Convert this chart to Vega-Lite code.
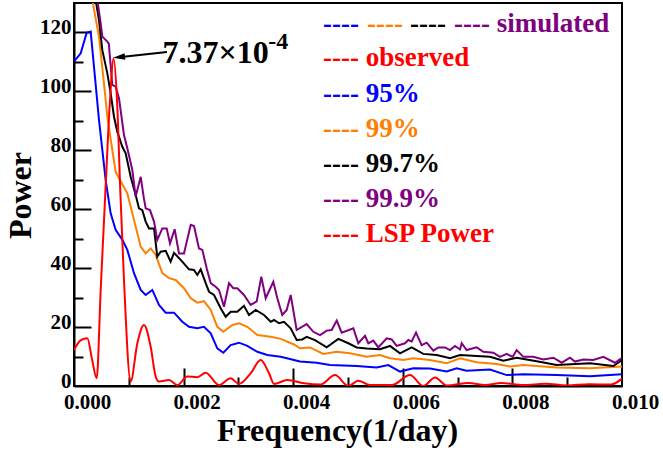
{
"$schema": "https://vega.github.io/schema/vega-lite/v6.json",
"width": 548, "height": 383,
"autosize": {"type": "none"},
"padding": {"left": 74, "top": 3, "right": 41, "bottom": 64},
"config": {"view": {"stroke": "#000000", "strokeWidth": 2}, "font": "Liberation Serif", "text": {"font": "Liberation Serif", "fontWeight": "bold"}},
"datasets": {
"sim": [
{"s":"95%","f":0,"p":110.1},{"s":"95%","f":0.000122,"p":112.9},{"s":"95%","f":0.000231,"p":119.9},{"s":"95%","f":0.000304,"p":120.3},{"s":"95%","f":0.000353,"p":110.7},{"s":"95%","f":0.000456,"p":90.3},{"s":"95%","f":0.000578,"p":69.9},{"s":"95%","f":0.000669,"p":58.6},{"s":"95%","f":0.00076,"p":53},{"s":"95%","f":0.000882,"p":49.6},{"s":"95%","f":0.000973,"p":46.2},{"s":"95%","f":0.001095,"p":38.3},{"s":"95%","f":0.001217,"p":32.6},{"s":"95%","f":0.001308,"p":30.9},{"s":"95%","f":0.001429,"p":32.6},{"s":"95%","f":0.001551,"p":27.5},{"s":"95%","f":0.001673,"p":24.9},{"s":"95%","f":0.001825,"p":24.9},{"s":"95%","f":0.001977,"p":21.8},{"s":"95%","f":0.002099,"p":20.1},{"s":"95%","f":0.00225,"p":19.6},{"s":"95%","f":0.002372,"p":20.1},{"s":"95%","f":0.002495,"p":17.9},{"s":"95%","f":0.002615,"p":12.8},{"s":"95%","f":0.002725,"p":11.3},{"s":"95%","f":0.002859,"p":13.9},{"s":"95%","f":0.003011,"p":14.7},{"s":"95%","f":0.003163,"p":13.6},{"s":"95%","f":0.003345,"p":11.6},{"s":"95%","f":0.003528,"p":10.5},{"s":"95%","f":0.003771,"p":9.9},{"s":"95%","f":0.004015,"p":8.8},{"s":"95%","f":0.004124,"p":8.3},{"s":"95%","f":0.004428,"p":7.9},{"s":"95%","f":0.004672,"p":7.1},{"s":"95%","f":0.005158,"p":6.8},{"s":"95%","f":0.005523,"p":6.3},{"s":"95%","f":0.005736,"p":7.1},{"s":"95%","f":0.005949,"p":4.9},{"s":"95%","f":0.006192,"p":6.0},{"s":"95%","f":0.006496,"p":5.9},{"s":"95%","f":0.006801,"p":4.9},{"s":"95%","f":0.006983,"p":6.0},{"s":"95%","f":0.007165,"p":5.2},{"s":"95%","f":0.007591,"p":5.6},{"s":"95%","f":0.007896,"p":3.7},{"s":"95%","f":0.008199,"p":4.0},{"s":"95%","f":0.008808,"p":3.7},{"s":"95%","f":0.009416,"p":3.3},{"s":"95%","f":0.01,"p":4.0},
{"s":"99%","f":0,"p":190},{"s":"99%","f":0.00025,"p":145},{"s":"99%","f":0.000334,"p":131},{"s":"99%","f":0.000456,"p":118.6},{"s":"99%","f":0.000547,"p":102.7},{"s":"99%","f":0.000608,"p":91.4},{"s":"99%","f":0.000699,"p":80.1},{"s":"99%","f":0.00076,"p":72.7},{"s":"99%","f":0.000882,"p":68.5},{"s":"99%","f":0.000973,"p":65.4},{"s":"99%","f":0.001004,"p":63.1},{"s":"99%","f":0.001125,"p":54.1},{"s":"99%","f":0.001217,"p":47.3},{"s":"99%","f":0.001308,"p":45},{"s":"99%","f":0.0014,"p":46.7},{"s":"99%","f":0.001491,"p":44.5},{"s":"99%","f":0.001612,"p":38.3},{"s":"99%","f":0.001734,"p":36.6},{"s":"99%","f":0.001856,"p":36},{"s":"99%","f":0.002007,"p":33.2},{"s":"99%","f":0.00213,"p":29.8},{"s":"99%","f":0.00225,"p":28.3},{"s":"99%","f":0.002372,"p":28.8},{"s":"99%","f":0.002495,"p":25.8},{"s":"99%","f":0.002615,"p":20.1},{"s":"99%","f":0.002725,"p":18.4},{"s":"99%","f":0.002889,"p":20.7},{"s":"99%","f":0.003011,"p":21.3},{"s":"99%","f":0.003163,"p":20.1},{"s":"99%","f":0.003345,"p":17.3},{"s":"99%","f":0.00359,"p":16.7},{"s":"99%","f":0.003771,"p":16.0},{"s":"99%","f":0.004015,"p":14.1},{"s":"99%","f":0.004124,"p":12.8},{"s":"99%","f":0.004307,"p":13.1},{"s":"99%","f":0.004549,"p":10.9},{"s":"99%","f":0.004794,"p":11.6},{"s":"99%","f":0.005036,"p":11.1},{"s":"99%","f":0.005341,"p":9.9},{"s":"99%","f":0.005584,"p":10.5},{"s":"99%","f":0.005766,"p":9.4},{"s":"99%","f":0.006009,"p":8.8},{"s":"99%","f":0.006192,"p":9.4},{"s":"99%","f":0.006496,"p":8.8},{"s":"99%","f":0.006801,"p":7.7},{"s":"99%","f":0.007044,"p":9.4},{"s":"99%","f":0.007348,"p":8.1},{"s":"99%","f":0.007713,"p":7.5},{"s":"99%","f":0.007956,"p":6.6},{"s":"99%","f":0.008199,"p":7.1},{"s":"99%","f":0.008808,"p":6.3},{"s":"99%","f":0.009416,"p":6.0},{"s":"99%","f":0.01,"p":6.6},
{"s":"99.7%","f":0,"p":200},{"s":"99.7%","f":0.0003,"p":145},{"s":"99.7%","f":0.000395,"p":131},{"s":"99.7%","f":0.000456,"p":124.2},{"s":"99.7%","f":0.000517,"p":114},{"s":"99.7%","f":0.000608,"p":106.1},{"s":"99.7%","f":0.000669,"p":99.4},{"s":"99.7%","f":0.00073,"p":91.4},{"s":"99.7%","f":0.00079,"p":86.3},{"s":"99.7%","f":0.000882,"p":81.2},{"s":"99.7%","f":0.000943,"p":79},{"s":"99.7%","f":0.001034,"p":71},{"s":"99.7%","f":0.001125,"p":64.8},{"s":"99.7%","f":0.001186,"p":60.3},{"s":"99.7%","f":0.001247,"p":59.7},{"s":"99.7%","f":0.001308,"p":55.8},{"s":"99.7%","f":0.001369,"p":53.5},{"s":"99.7%","f":0.00146,"p":53.5},{"s":"99.7%","f":0.00152,"p":43.9},{"s":"99.7%","f":0.001582,"p":45.6},{"s":"99.7%","f":0.001673,"p":45.9},{"s":"99.7%","f":0.001764,"p":42.2},{"s":"99.7%","f":0.001825,"p":45.2},{"s":"99.7%","f":0.001947,"p":42.8},{"s":"99.7%","f":0.002099,"p":39.6},{"s":"99.7%","f":0.00219,"p":39.4},{"s":"99.7%","f":0.00225,"p":37.7},{"s":"99.7%","f":0.002312,"p":39.6},{"s":"99.7%","f":0.002403,"p":34.9},{"s":"99.7%","f":0.002464,"p":32},{"s":"99.7%","f":0.002555,"p":30.9},{"s":"99.7%","f":0.002677,"p":26.4},{"s":"99.7%","f":0.002768,"p":23.5},{"s":"99.7%","f":0.002859,"p":25.2},{"s":"99.7%","f":0.00298,"p":25.2},{"s":"99.7%","f":0.003102,"p":27.2},{"s":"99.7%","f":0.003193,"p":24.1},{"s":"99.7%","f":0.003315,"p":25.8},{"s":"99.7%","f":0.003467,"p":24.1},{"s":"99.7%","f":0.00359,"p":21.8},{"s":"99.7%","f":0.00365,"p":22.4},{"s":"99.7%","f":0.003741,"p":21.3},{"s":"99.7%","f":0.003832,"p":21.8},{"s":"99.7%","f":0.003954,"p":19.6},{"s":"99.7%","f":0.004063,"p":15.6},{"s":"99.7%","f":0.004166,"p":15.8},{"s":"99.7%","f":0.004246,"p":16.7},{"s":"99.7%","f":0.004398,"p":15.6},{"s":"99.7%","f":0.004611,"p":13.1},{"s":"99.7%","f":0.004823,"p":16},{"s":"99.7%","f":0.005006,"p":14.5},{"s":"99.7%","f":0.005158,"p":13.1},{"s":"99.7%","f":0.005341,"p":12.7},{"s":"99.7%","f":0.005584,"p":12.5},{"s":"99.7%","f":0.005766,"p":13.6},{"s":"99.7%","f":0.005949,"p":11.1},{"s":"99.7%","f":0.006162,"p":13.1},{"s":"99.7%","f":0.006374,"p":10.9},{"s":"99.7%","f":0.006618,"p":10.5},{"s":"99.7%","f":0.006861,"p":9.4},{"s":"99.7%","f":0.007044,"p":10.5},{"s":"99.7%","f":0.007348,"p":10.2},{"s":"99.7%","f":0.007591,"p":9.9},{"s":"99.7%","f":0.007834,"p":8.6},{"s":"99.7%","f":0.008078,"p":9.6},{"s":"99.7%","f":0.008443,"p":8.4},{"s":"99.7%","f":0.008808,"p":7.1},{"s":"99.7%","f":0.009416,"p":7.7},{"s":"99.7%","f":0.009842,"p":6.8},{"s":"99.7%","f":0.01,"p":8.8},
{"s":"99.9%","f":0,"p":210},{"s":"99.9%","f":0.00033,"p":145},{"s":"99.9%","f":0.000426,"p":131},{"s":"99.9%","f":0.000487,"p":123.1},{"s":"99.9%","f":0.000517,"p":118.6},{"s":"99.9%","f":0.000608,"p":116.9},{"s":"99.9%","f":0.000635,"p":116.2},{"s":"99.9%","f":0.000699,"p":102.2},{"s":"99.9%","f":0.00076,"p":101.6},{"s":"99.9%","f":0.000821,"p":97.7},{"s":"99.9%","f":0.000912,"p":85.2},{"s":"99.9%","f":0.000973,"p":80.7},{"s":"99.9%","f":0.001064,"p":73.3},{"s":"99.9%","f":0.001125,"p":64.3},{"s":"99.9%","f":0.001217,"p":71},{"s":"99.9%","f":0.001277,"p":63.5},{"s":"99.9%","f":0.001308,"p":60.3},{"s":"99.9%","f":0.001387,"p":59.7},{"s":"99.9%","f":0.00146,"p":55.8},{"s":"99.9%","f":0.00152,"p":49.6},{"s":"99.9%","f":0.001612,"p":53.5},{"s":"99.9%","f":0.001691,"p":53.5},{"s":"99.9%","f":0.001752,"p":48.4},{"s":"99.9%","f":0.001837,"p":53.2},{"s":"99.9%","f":0.001916,"p":45},{"s":"99.9%","f":0.002007,"p":45},{"s":"99.9%","f":0.00213,"p":54.7},{"s":"99.9%","f":0.00219,"p":54.3},{"s":"99.9%","f":0.002281,"p":46.7},{"s":"99.9%","f":0.002342,"p":46.2},{"s":"99.9%","f":0.002421,"p":40},{"s":"99.9%","f":0.002495,"p":34.9},{"s":"99.9%","f":0.002585,"p":33.7},{"s":"99.9%","f":0.002646,"p":32.6},{"s":"99.9%","f":0.002737,"p":26.9},{"s":"99.9%","f":0.002828,"p":34.9},{"s":"99.9%","f":0.002907,"p":33.2},{"s":"99.9%","f":0.00298,"p":33.2},{"s":"99.9%","f":0.003102,"p":30.9},{"s":"99.9%","f":0.003224,"p":27.5},{"s":"99.9%","f":0.003334,"p":28.7},{"s":"99.9%","f":0.003418,"p":37.1},{"s":"99.9%","f":0.003498,"p":29.8},{"s":"99.9%","f":0.003637,"p":35.4},{"s":"99.9%","f":0.00371,"p":29.8},{"s":"99.9%","f":0.003801,"p":24.1},{"s":"99.9%","f":0.003881,"p":25.8},{"s":"99.9%","f":0.003954,"p":30.9},{"s":"99.9%","f":0.004063,"p":19},{"s":"99.9%","f":0.004246,"p":21},{"s":"99.9%","f":0.004367,"p":18.4},{"s":"99.9%","f":0.004489,"p":17.3},{"s":"99.9%","f":0.004611,"p":18.8},{"s":"99.9%","f":0.004702,"p":19.0},{"s":"99.9%","f":0.004794,"p":22.2},{"s":"99.9%","f":0.004885,"p":18.1},{"s":"99.9%","f":0.005097,"p":19.6},{"s":"99.9%","f":0.005188,"p":14.5},{"s":"99.9%","f":0.00531,"p":17},{"s":"99.9%","f":0.005371,"p":14.5},{"s":"99.9%","f":0.005462,"p":15.4},{"s":"99.9%","f":0.005553,"p":13.1},{"s":"99.9%","f":0.005706,"p":16.2},{"s":"99.9%","f":0.005797,"p":15.8},{"s":"99.9%","f":0.005888,"p":13.6},{"s":"99.9%","f":0.00604,"p":14.5},{"s":"99.9%","f":0.006101,"p":15.6},{"s":"99.9%","f":0.006162,"p":15.1},{"s":"99.9%","f":0.006241,"p":18.1},{"s":"99.9%","f":0.006344,"p":13.9},{"s":"99.9%","f":0.006436,"p":14.7},{"s":"99.9%","f":0.006557,"p":12},{"s":"99.9%","f":0.006648,"p":13.1},{"s":"99.9%","f":0.00677,"p":13.1},{"s":"99.9%","f":0.006861,"p":12.2},{"s":"99.9%","f":0.006953,"p":13.6},{"s":"99.9%","f":0.007044,"p":12.4},{"s":"99.9%","f":0.007075,"p":14.5},{"s":"99.9%","f":0.007165,"p":12.2},{"s":"99.9%","f":0.007348,"p":13.1},{"s":"99.9%","f":0.007469,"p":11.6},{"s":"99.9%","f":0.007652,"p":11.3},{"s":"99.9%","f":0.007774,"p":9.9},{"s":"99.9%","f":0.007896,"p":10.9},{"s":"99.9%","f":0.008005,"p":9.9},{"s":"99.9%","f":0.008078,"p":12.2},{"s":"99.9%","f":0.008199,"p":9.9},{"s":"99.9%","f":0.008382,"p":9.9},{"s":"99.9%","f":0.008564,"p":9.0},{"s":"99.9%","f":0.008747,"p":9.6},{"s":"99.9%","f":0.0089,"p":7.9},{"s":"99.9%","f":0.009051,"p":9.6},{"s":"99.9%","f":0.009142,"p":8.3},{"s":"99.9%","f":0.009294,"p":9.0},{"s":"99.9%","f":0.009476,"p":8.8},{"s":"99.9%","f":0.009659,"p":9.9},{"s":"99.9%","f":0.009872,"p":7.9},{"s":"99.9%","f":0.01,"p":9.6}
],
"obs": [
{"f":0,"p":12.2},{"f":0.00012,"p":15.5},{"f":0.000243,"p":16.2},{"f":0.00033,"p":9},{"f":0.000414,"p":2.6},{"f":0.000487,"p":32.6},{"f":0.000578,"p":68},{"f":0.000657,"p":97},{"f":0.000722,"p":111.2},{"f":0.000785,"p":97},{"f":0.000845,"p":66},{"f":0.000912,"p":36},{"f":0.001034,"p":1.5},{"f":0.001156,"p":14.5},{"f":0.001277,"p":20.7},{"f":0.001399,"p":13.3},{"f":0.001491,"p":3.2},{"f":0.00155,"p":1.5},{"f":0.001734,"p":2},{"f":0.001886,"p":0.3},{"f":0.002068,"p":3.2},{"f":0.00225,"p":3},{"f":0.002403,"p":4.5},{"f":0.002646,"p":0.3},{"f":0.002859,"p":2.6},{"f":0.003011,"p":0.7},{"f":0.003224,"p":4.3},{"f":0.003406,"p":8.8},{"f":0.003559,"p":4.3},{"f":0.00365,"p":0.7},{"f":0.003893,"p":2},{"f":0.004197,"p":0.9},{"f":0.0045,"p":0.5},{"f":0.004763,"p":3.7},{"f":0.005006,"p":0},{"f":0.005188,"p":1.8},{"f":0.005401,"p":0.3},{"f":0.0058,"p":0.3},{"f":0.006131,"p":3.7},{"f":0.006374,"p":0},{"f":0.006588,"p":2.9},{"f":0.006801,"p":0.2},{"f":0.0072,"p":1.0},{"f":0.0075,"p":0.3},{"f":0.0078,"p":1.0},{"f":0.0082,"p":0.3},{"f":0.0086,"p":0.8},{"f":0.009,"p":0.2},{"f":0.0094,"p":0.6},{"f":0.0098,"p":0.5},{"f":0.01,"p":2.5}
]
},
"layer": [
{"data": {"name": "sim"},
 "mark": {"type": "line", "clip": true, "strokeWidth": 2},
 "encoding": {
  "x": {"field": "f", "type": "quantitative", "scale": {"domain": [0, 0.01], "nice": false, "zero": false},
   "axis": {"orient": "bottom", "values": [0, 0.002, 0.004, 0.006, 0.008, 0.01], "format": ".3f", "ticks": false, "tickSize": 0, "domainColor": "#000000", "domainWidth": 2, "labelFont": "Liberation Serif", "labelFontWeight": "bold", "labelFontSize": 21, "labelColor": "#000000", "labelBaseline": "alphabetic", "labelPadding": 22, "labelOffset": 13, "labelFlush": false, "labelOverlap": false, "grid": false, "title": "Frequency(1/day)", "titleFont": "Liberation Serif", "titleFontSize": 32, "titleFontWeight": "bold", "titleColor": "#000000", "titleX": 263, "titleY": 54, "titleBaseline": "alphabetic", "titleAlign": "center"}},
  "y": {"field": "p", "type": "quantitative", "scale": {"domain": [0, 130], "nice": false, "zero": false},
   "axis": {"orient": "left", "values": [0, 20, 40, 60, 80, 100, 120], "ticks": false, "tickSize": 0, "domainColor": "#000000", "domainWidth": 2, "labelFont": "Liberation Serif", "labelFontWeight": "bold", "labelFontSize": 21, "labelColor": "#000000", "labelPadding": 3, "labelOffset": -5, "labelBaseline": "middle", "labelFlush": false, "labelOverlap": false, "grid": false, "title": "Power", "titleFont": "Liberation Serif", "titleFontSize": 32, "titleFontWeight": "bold", "titleColor": "#000000", "titleX": -44, "titleY": 192, "titleAngle": 270, "titleBaseline": "alphabetic", "titleAlign": "center"}},
  "color": {"field": "s", "type": "nominal", "scale": {"domain": ["95%", "99%", "99.7%", "99.9%"], "range": ["#0000ff", "#ff8000", "#000000", "#800080"]}, "legend": null}
 }},
{"data": {"name": "obs"},
 "mark": {"type": "line", "clip": true, "strokeWidth": 2, "color": "#ff0000", "interpolate": "monotone"},
 "encoding": {
  "x": {"field": "f", "type": "quantitative", "scale": {"domain": [0, 0.01], "nice": false, "zero": false}, "axis": null},
  "y": {"field": "p", "type": "quantitative", "scale": {"domain": [0, 130], "nice": false, "zero": false}, "axis": null}
 }},
{"data": {"values": [{}]},
 "mark": {"type": "point", "opacity": 0},
 "encoding": {
  "x": {"datum": 0, "type": "quantitative", "scale": {"domain": [0, 0.01], "nice": false, "zero": false},
   "axis": {"orient": "top", "offset": -383, "values": [0.001, 0.002, 0.003, 0.004, 0.005, 0.006, 0.007, 0.008, 0.009], "labels": false, "domain": false, "grid": false, "title": null, "ticks": true, "tickColor": "#000000", "tickWidth": 2, "tickSize": {"condition": {"test": "round(datum.value*1000) % 2 == 0", "value": 18}, "value": 9}}},
  "y": {"datum": 0, "type": "quantitative", "scale": {"domain": [0, 130], "nice": false, "zero": false},
   "axis": {"orient": "right", "offset": -548, "values": [10, 20, 30, 40, 50, 60, 70, 80, 90, 100, 110, 120], "labels": false, "domain": false, "grid": false, "title": null, "ticks": true, "tickColor": "#000000", "tickWidth": 2, "tickSize": {"condition": {"test": "datum.value % 20 == 0", "value": 17}, "value": 9}}}
 }},
{"data": {"values": [{}]},
 "mark": {"type": "rule", "color": "#000000", "strokeWidth": 2},
 "encoding": {
  "x": {"datum": 0.000821, "type": "quantitative", "scale": {"domain": [0, 0.01], "nice": false, "zero": false}, "axis": null},
  "x2": {"datum": 0.001697},
  "y": {"datum": 111.6, "type": "quantitative", "scale": {"domain": [0, 130], "nice": false, "zero": false}, "axis": null},
  "y2": {"datum": 113.4}
 }},
{"data": {"values": [{}]},
 "mark": {"type": "point", "shape": "M -1 0 L 1 -0.55 L 1 0.55 Z", "size": 144, "angle": 353.7, "filled": true, "color": "#000000", "opacity": 1, "strokeWidth": 0},
 "encoding": {
  "x": {"datum": 0.000821, "type": "quantitative", "scale": {"domain": [0, 0.01], "nice": false, "zero": false}, "axis": null},
  "y": {"datum": 111.6, "type": "quantitative", "scale": {"domain": [0, 130], "nice": false, "zero": false}, "axis": null}
 }},
{"data": {"values": [{}]},
 "mark": {"type": "text", "text": "7.37×10", "fontSize": 32, "color": "#000000", "align": "left", "baseline": "alphabetic"},
 "encoding": {
  "x": {"datum": 0.001613, "type": "quantitative", "scale": {"domain": [0, 0.01], "nice": false, "zero": false}, "axis": null},
  "y": {"datum": 109.7, "type": "quantitative", "scale": {"domain": [0, 130], "nice": false, "zero": false}, "axis": null}
 }},
{"data": {"values": [{}]},
 "mark": {"type": "text", "text": "-4", "fontSize": 24, "color": "#000000", "align": "left", "baseline": "alphabetic"},
 "encoding": {
  "x": {"datum": 0.003546, "type": "quantitative", "scale": {"domain": [0, 0.01], "nice": false, "zero": false}, "axis": null},
  "y": {"datum": 114.4, "type": "quantitative", "scale": {"domain": [0, 130], "nice": false, "zero": false}, "axis": null}
 }},
{"data": {"values": [{}]},
 "mark": {"type": "text", "text": "----", "fontSize": 27, "color": "#0000ff", "align": "left", "baseline": "alphabetic"},
 "encoding": {
  "x": {"datum": 0.004544, "type": "quantitative", "scale": {"domain": [0, 0.01], "nice": false, "zero": false}, "axis": null},
  "y": {"datum": 120.3, "type": "quantitative", "scale": {"domain": [0, 130], "nice": false, "zero": false}, "axis": null}
 }},
{"data": {"values": [{}]},
 "mark": {"type": "text", "text": "----", "fontSize": 27, "color": "#ff8000", "align": "left", "baseline": "alphabetic"},
 "encoding": {
  "x": {"datum": 0.005347, "type": "quantitative", "scale": {"domain": [0, 0.01], "nice": false, "zero": false}, "axis": null},
  "y": {"datum": 120.3, "type": "quantitative", "scale": {"domain": [0, 130], "nice": false, "zero": false}, "axis": null}
 }},
{"data": {"values": [{}]},
 "mark": {"type": "text", "text": "----", "fontSize": 27, "color": "#000000", "align": "left", "baseline": "alphabetic"},
 "encoding": {
  "x": {"datum": 0.006131, "type": "quantitative", "scale": {"domain": [0, 0.01], "nice": false, "zero": false}, "axis": null},
  "y": {"datum": 120.3, "type": "quantitative", "scale": {"domain": [0, 130], "nice": false, "zero": false}, "axis": null}
 }},
{"data": {"values": [{}]},
 "mark": {"type": "text", "text": "---- simulated", "fontSize": 27, "color": "#800080", "align": "left", "baseline": "alphabetic"},
 "encoding": {
  "x": {"datum": 0.006934, "type": "quantitative", "scale": {"domain": [0, 0.01], "nice": false, "zero": false}, "axis": null},
  "y": {"datum": 120.3, "type": "quantitative", "scale": {"domain": [0, 130], "nice": false, "zero": false}, "axis": null}
 }},
{"data": {"values": [{}]},
 "mark": {"type": "text", "text": "---- observed", "fontSize": 27, "color": "#ff0000", "align": "left", "baseline": "alphabetic"},
 "encoding": {
  "x": {"datum": 0.004544, "type": "quantitative", "scale": {"domain": [0, 0.01], "nice": false, "zero": false}, "axis": null},
  "y": {"datum": 108.5, "type": "quantitative", "scale": {"domain": [0, 130], "nice": false, "zero": false}, "axis": null}
 }},
{"data": {"values": [{}]},
 "mark": {"type": "text", "text": "---- 95%", "fontSize": 27, "color": "#0000ff", "align": "left", "baseline": "alphabetic"},
 "encoding": {
  "x": {"datum": 0.004544, "type": "quantitative", "scale": {"domain": [0, 0.01], "nice": false, "zero": false}, "axis": null},
  "y": {"datum": 96.5, "type": "quantitative", "scale": {"domain": [0, 130], "nice": false, "zero": false}, "axis": null}
 }},
{"data": {"values": [{}]},
 "mark": {"type": "text", "text": "---- 99%", "fontSize": 27, "color": "#ff8000", "align": "left", "baseline": "alphabetic"},
 "encoding": {
  "x": {"datum": 0.004544, "type": "quantitative", "scale": {"domain": [0, 0.01], "nice": false, "zero": false}, "axis": null},
  "y": {"datum": 84.6, "type": "quantitative", "scale": {"domain": [0, 130], "nice": false, "zero": false}, "axis": null}
 }},
{"data": {"values": [{}]},
 "mark": {"type": "text", "text": "---- 99.7%", "fontSize": 27, "color": "#000000", "align": "left", "baseline": "alphabetic"},
 "encoding": {
  "x": {"datum": 0.004544, "type": "quantitative", "scale": {"domain": [0, 0.01], "nice": false, "zero": false}, "axis": null},
  "y": {"datum": 72.8, "type": "quantitative", "scale": {"domain": [0, 130], "nice": false, "zero": false}, "axis": null}
 }},
{"data": {"values": [{}]},
 "mark": {"type": "text", "text": "---- 99.9%", "fontSize": 27, "color": "#800080", "align": "left", "baseline": "alphabetic"},
 "encoding": {
  "x": {"datum": 0.004544, "type": "quantitative", "scale": {"domain": [0, 0.01], "nice": false, "zero": false}, "axis": null},
  "y": {"datum": 60.8, "type": "quantitative", "scale": {"domain": [0, 130], "nice": false, "zero": false}, "axis": null}
 }},
{"data": {"values": [{}]},
 "mark": {"type": "text", "text": "---- LSP Power", "fontSize": 27, "color": "#ff0000", "align": "left", "baseline": "alphabetic"},
 "encoding": {
  "x": {"datum": 0.004544, "type": "quantitative", "scale": {"domain": [0, 0.01], "nice": false, "zero": false}, "axis": null},
  "y": {"datum": 48.9, "type": "quantitative", "scale": {"domain": [0, 130], "nice": false, "zero": false}, "axis": null}
 }}
],
"resolve": {"axis": {"x": "independent", "y": "independent"}}
}
